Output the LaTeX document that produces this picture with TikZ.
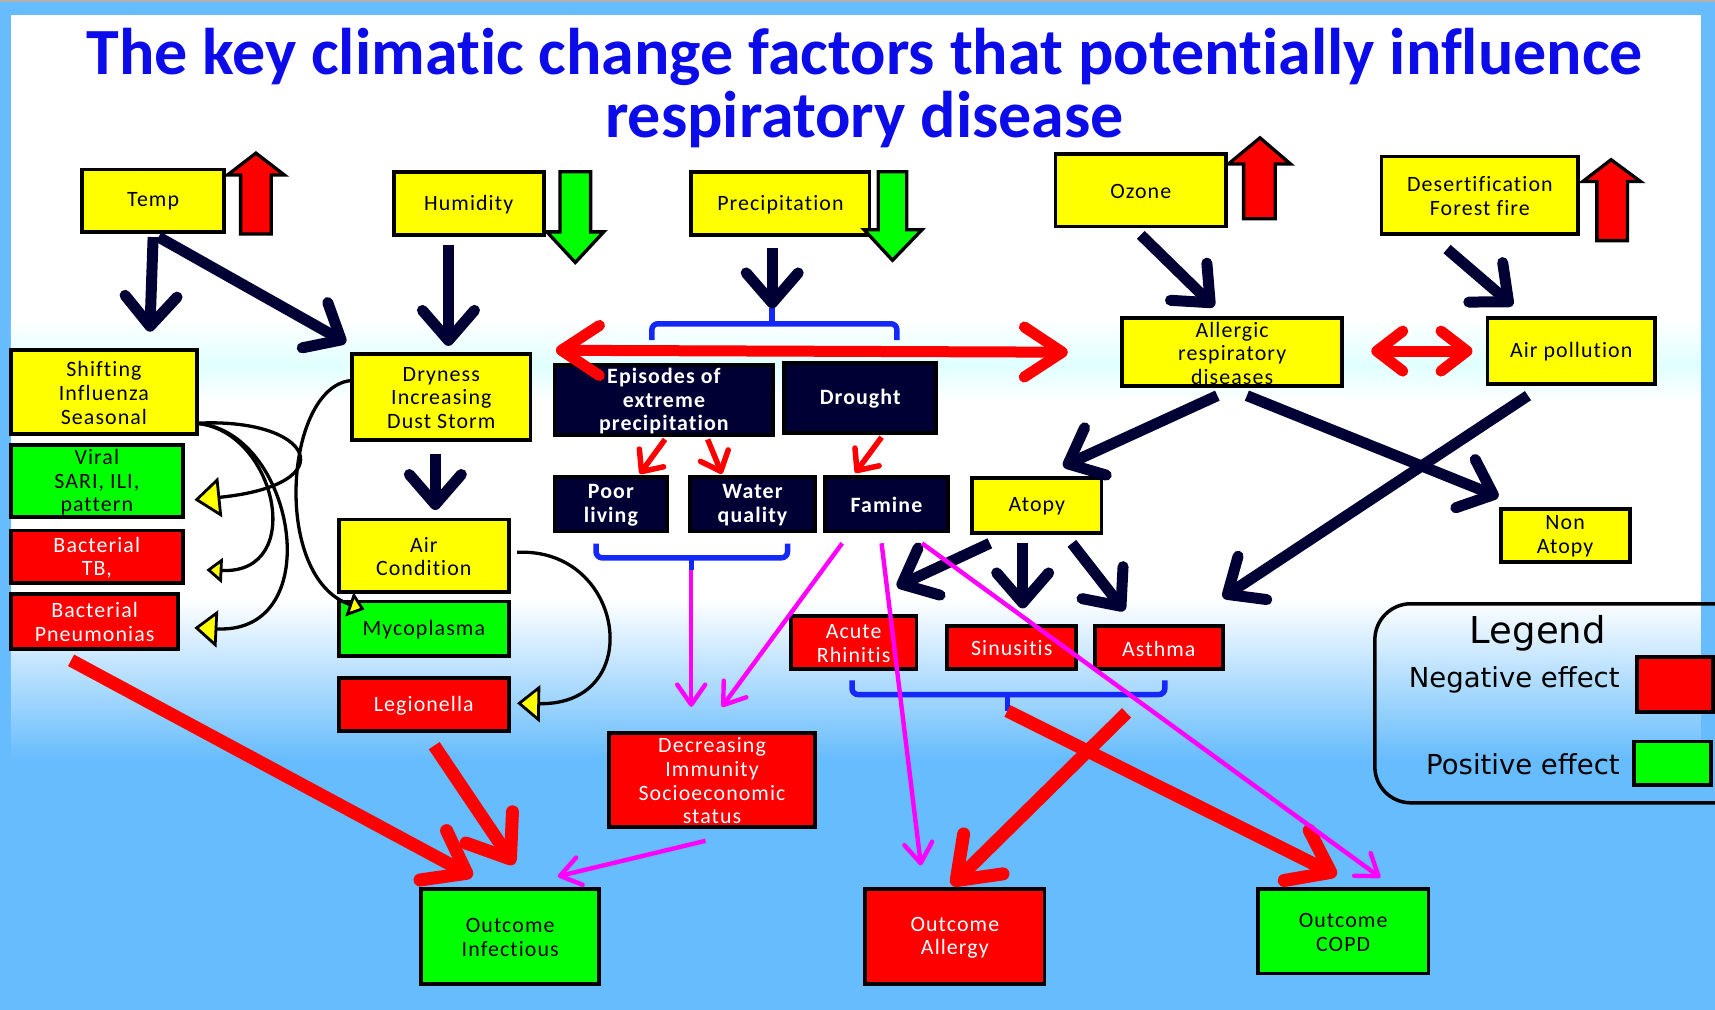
\documentclass[tikz,border=0pt]{standalone}
\usepackage{fontspec}
\setmainfont{Carlito}[Ligatures=NoCommon]
\newfontfamily\boxfont{Carlito}[LetterSpace=5,Ligatures=NoCommon]
\newfontfamily\legfont{DejaVu Sans}
\usetikzlibrary{arrows.meta,fit}
\definecolor{sky}{RGB}{102,188,252}
\definecolor{ylw}{RGB}{255,255,0}
\definecolor{grn}{RGB}{0,255,0}
\definecolor{rd}{RGB}{255,0,0}
\definecolor{navy}{RGB}{0,0,52}
\definecolor{ttl}{RGB}{12,12,235}
\definecolor{brc}{RGB}{20,40,250}
\definecolor{mag}{RGB}{255,0,255}
\definecolor{cyanband}{RGB}{225,255,255}
\begin{document}
\begin{tikzpicture}[x=1.09375pt,y=-1.09375pt,
  box/.style={draw=black, line width=3.8pt, inner sep=0pt},
  ybox/.style={box, fill=ylw},
  gbox/.style={box, fill=grn},
  rbox/.style={box, fill=rd},
  nbox/.style={box, fill=navy},
  lab/.style={align=center, inner sep=0pt, yshift=-1pt, font=\boxfont\fontsize{21.9}{23.7}\selectfont},
  klab/.style={lab, text=black},
  wlab/.style={lab, text=white},
  nlab/.style={lab, text=white, font=\boxfont\bfseries\fontsize{21.9}{23.7}\selectfont},
  blockarr/.style={draw=black, line width=3.3pt, line join=miter},
  navyarr/.style={draw=navy, line width=11pt, -{Straight Barb[length=30pt,width=52pt,round]}},
  redthick/.style={draw=rd, line width=13pt, -{Straight Barb[length=38pt,width=56pt,round]}},
  reddbl/.style={draw=rd, line width=11pt, {Straight Barb[length=38pt,width=50pt,round]}-{Straight Barb[length=38pt,width=50pt,round]}},
  redshortdbl/.style={draw=rd, line width=11pt, {Straight Barb[length=26pt,width=40pt,round]}-{Straight Barb[length=26pt,width=40pt,round]}},
  redthin/.style={draw=rd, line width=5.5pt, -{Straight Barb[length=17pt,width=30pt,round]}},
  magarr/.style={draw=mag, line width=4.4pt, -{Straight Barb[length=20pt,width=28pt,round]}},
  curvebig/.style={draw=black, line width=3.3pt, -{Triangle[fill=ylw,line width=2.8pt,length=26pt,width=40pt]}},
  curvearr/.style={draw=black, line width=3.3pt, -{Triangle[fill=ylw,line width=2.8pt,length=23pt,width=37pt]}},
  curvesmall/.style={draw=black, line width=3.3pt, -{Triangle[fill=ylw,line width=2.8pt,length=16pt,width=25pt]}},
  brace/.style={draw=brc, line width=5.5pt, rounded corners=6pt},
  legtext/.style={font=\legfont\fontsize{27.5}{30}\selectfont, text=black, inner sep=0pt}
]
\useasboundingbox (0,0) rectangle (1568,923);
\clip (0,0) rectangle (1568,923);
% background
\fill[sky] (0,0) rectangle (1568,923);
\fill[gray!60] (0,0) rectangle (1568,2);
\fill[white] (10,14) rectangle (1555,292);
\shade[top color=white, bottom color=cyanband] (10,292) rectangle (1555,334);
\shade[top color=cyanband, bottom color=white] (10,334) rectangle (1555,368);
\fill[white] (10,368) rectangle (1555,548);
\shade[top color=white, bottom color=sky] (10,548) rectangle (1555,695);

% title
\node[font=\bfseries\fontsize{66}{63}\selectfont, text=ttl, align=center, inner sep=0pt] (title) at (790.5,80.5) {The key climatic change factors that potentially influence\\respiratory disease};

% boxes
\node[ybox, fit={(75,155) (205,212)}, label={[klab]center:{Temp}}] (temp) {};
\node[ybox, fit={(360,157) (497,215)}, label={[klab]center:{Humidity}}] (hum) {};
\node[ybox, fit={(632,157) (795,215)}, label={[klab]center:{Precipitation}}] (prec) {};
\node[ybox, fit={(965,141) (1121,207)}, label={[klab]center:{Ozone}}] (ozone) {};
\node[ybox, fit={(1263,143) (1443,214)}, label={[klab]center:{Desertification\\Forest fire}}] (desert) {};
\node[ybox, fit={(10,320) (180,397)}, label={[klab]center:{Shifting\\Influenza\\Seasonal}}] (shifting) {};
\node[gbox, fit={(10,407) (167,473)}, label={[klab]center:{Viral\\SARI, ILI,\\pattern}}] (viral) {};
\node[rbox, fit={(10,485) (167,533)}, label={[wlab]center:{Bacterial\\TB,}}] (tb) {};
\node[rbox, fit={(10,543) (163,593)}, label={[wlab]center:{Bacterial\\Pneumonias}}] (pneu) {};
\node[ybox, fit={(322,324) (485,402)}, label={[klab]center:{Dryness\\Increasing\\Dust Storm}}] (dry) {};
\node[ybox, fit={(310,475) (465,541)}, label={[klab]center:{Air\\Condition}}] (aircond) {};
\node[gbox, fit={(310,550) (465,600)}, label={[klab]center:{Mycoplasma}}] (myco) {};
\node[rbox, fit={(310,620) (465,668)}, label={[wlab]center:{Legionella}}] (legio) {};
\node[nbox, fit={(507,334) (707,398)}, label={[nlab]center:{Episodes of\\extreme\\precipitation}}] (epis) {};
\node[nbox, fit={(717,332) (856,396)}, label={[nlab]center:{Drought}}] (drought) {};
\node[nbox, fit={(507,436) (610,486)}, label={[nlab]center:{Poor\\living}}] (poor) {};
\node[nbox, fit={(631,436) (745,486)}, label={[nlab]center:{Water\\quality}}] (water) {};
\node[nbox, fit={(754,436) (867,486)}, label={[nlab]center:{Famine}}] (famine) {};
\node[ybox, fit={(889,437) (1007,487)}, label={[klab]center:{Atopy}}] (atopy) {};
\node[ybox, fit={(1026,291) (1227,353)}, label={[klab]center:{Allergic\\respiratory\\diseases}}] (allergic) {};
\node[ybox, fit={(1360,291) (1513,351)}, label={[klab]center:{Air pollution}}] (airpol) {};
\node[ybox, fit={(1372,465) (1490,514)}, label={[klab]center:{Non\\Atopy}}] (nonatopy) {};
\node[rbox, fit={(723,563) (838,612)}, label={[wlab]center:{Acute\\Rhinitis}}] (rhin) {};
\node[rbox, fit={(866,572) (984,612)}, label={[wlab]center:{Sinusitis}}] (sinus) {};
\node[rbox, fit={(1001,572) (1118,612)}, label={[wlab]center:{Asthma}}] (asthma) {};
\node[rbox, fit={(557,670) (745,756)}, label={[wlab]center:{Decreasing\\Immunity\\Socioeconomic\\status}}] (immun) {};
\node[gbox, fit={(385,813) (548,900)}, label={[klab]center:{Outcome\\Infectious}}] (outinf) {};
\node[rbox, fit={(791,813) (955,900)}, label={[wlab]center:{Outcome\\Allergy}}] (outall) {};
\node[gbox, fit={(1150,813) (1306,890)}, label={[klab]center:{Outcome\\COPD}}] (outcopd) {};

% block arrows (trend indicators)
\draw[blockarr, fill=rd] (220,214) -- (220,160) -- (208,160) -- (234,140) -- (260,160) -- (248,160) -- (248,214) -- cycle;
\draw[blockarr, fill=grn] (512,157) -- (540,157) -- (540,212) -- (552,212) -- (526,240) -- (500,212) -- (512,212) -- cycle;
\draw[blockarr, fill=grn] (803,157) -- (829,157) -- (829,210) -- (843,210) -- (816,238) -- (790,210) -- (803,210) -- cycle;
\draw[blockarr, fill=rd] (1137,200) -- (1137,150) -- (1123,150) -- (1152,126) -- (1180,150) -- (1166,150) -- (1166,200) -- cycle;
\draw[blockarr, fill=rd] (1460,220) -- (1460,166) -- (1447,166) -- (1473,146) -- (1500,166) -- (1488,166) -- (1488,220) -- cycle;

% braces
\coordinate (br1) at (706,282);
\coordinate (br2) at (632,521);
\coordinate (br3) at (921,650);
\draw[brace] (596,311) -- (596,296) -- (820,296) -- (820,311);
\draw[brace] (706,297) -- (br1);
\draw[brace] (545,497) -- (545,510) -- (720,510) -- (720,497);
\draw[brace] (632,509) -- (br2);
\draw[brace] (779,622) -- (779,635) -- (1065,635) -- (1065,622);
\draw[brace] (921,634) -- (br3);

% navy arrows
\draw[navyarr] ([shift={(0,3)}]temp.south) -- ([shift={(42,-15)}]shifting.north);
\draw[navyarr] ([shift={(5,3)}]temp.south) -- ([shift={(-4,-9)}]dry.north west);
\draw[navyarr] ([shift={(-18.5,7)}]hum.south) -- ([shift={(6.5,-6)}]dry.north);
\draw[navyarr] ([shift={(-7.5,10)}]prec.south) -- (br1);
\draw[navyarr] ([shift={(-5.5,11)}]dry.south) -- ([shift={(10.5,-7)}]aircond.north);
\draw[navyarr] ([shift={(0,6)}]ozone.south) -- ([shift={(-16.5,-9)}]allergic.north);
\draw[navyarr] ([shift={(-30,12)}]desert.south) -- ([shift={(-53.5,-10)}]airpol.north);
\draw[navyarr] ([shift={(-13.5,7)}]allergic.south) -- ([shift={(24,-9)}]atopy.north);
\draw[navyarr] ([shift={(13.5,7)}]allergic.south) -- ([shift={(-61,-9)}]nonatopy.north);
\draw[navyarr] ([shift={(-39.5,9)}]airpol.south) -- ([shift={(58.5,-24)}]asthma.north);
\draw[navyarr] ([shift={(-43,8)}]atopy.south) -- ([shift={(39.5,-25)}]rhin.north);
\draw[navyarr] ([shift={(-13,8)}]atopy.south) -- ([shift={(10,-14)}]sinus.north);
\draw[navyarr] ([shift={(32,8)}]atopy.south) -- ([shift={(-31.5,-12)}]asthma.north);

% red double arrows
\draw[reddbl] ([shift={(3,-12)}]epis.north west) -- ([shift={(-48,0)}]allergic.west);
\draw[redshortdbl] ([shift={(25,-1)}]allergic.east) -- ([shift={(-12,0)}]airpol.west);

% red thin arrows
\draw[redthin] ([shift={(1,2)}]epis.south) -- ([shift={(26.5,-1)}]poor.north);
\draw[redthin] ([shift={(40,2)}]epis.south) -- ([shift={(-28,-1)}]water.north);
\draw[redthin] ([shift={(19.5,2)}]drought.south) -- ([shift={(-28.5,-2)}]famine.north);

% red thick arrows
\draw[redthick] ([shift={(-21.5,9)}]pneu.south) -- ([shift={(-34.5,-10)}]outinf.north);
\draw[redthick] ([shift={(9.5,12)}]legio.south) -- ([shift={(3.5,-21)}]outinf.north);
\draw[redthick] (br3) -- ([shift={(-6,-11)}]outcopd.north);
\draw[redthick] ([shift={(-29.5,38)}]asthma.south) -- ([shift={(-3,-2)}]outall.north);

% magenta arrows
\draw[magarr] (br2) -- ([shift={(-19,-22)}]immun.north);
\draw[magarr] ([shift={(-40.5,9)}]famine.south) -- ([shift={(9,-22)}]immun.north);
\draw[magarr] ([shift={(-4.5,9)}]famine.south) -- ([shift={(-31,-20)}]outall.north);
\draw[magarr] ([shift={(32.5,9)}]famine.south) -- ([shift={(34,-9)}]outcopd.north);
\draw[magarr] ([shift={(-6,11)}]immun.south) -- ([shift={(43.5,-10)}]outinf.north);

% black curves with yellow triangle heads
\draw[curvebig] ([shift={(-3,28.5)}]shifting.east) .. controls +(108,-6) and +(139,-14) .. ([shift={(9,17)}]viral.east);
\draw[curvesmall] ([shift={(-3,28.5)}]shifting.east) .. controls +(73,5) and +(93,4) .. ([shift={(20,12)}]tb.east);
\draw[curvearr] ([shift={(-3,28.5)}]shifting.east) .. controls +(91,5) and +(124,6) .. ([shift={(13,6)}]pneu.east);
\draw[curvesmall] ([shift={(0,-15)}]dry.west) .. controls +(-60,7) and +(-85,-29) .. ([shift={(25,9)}]myco.north west);
\draw[curvearr] ([shift={(6,-3)}]aircond.east) .. controls +(99,-5) and +(119,2) .. ([shift={(6,-1)}]legio.east);

% legend
\node[draw=black, line width=3.5pt, rounded corners=36pt, inner sep=0pt, fit={(1257,552) (1620,734)}] (legend) {};
\node[legtext, font=\legfont\fontsize{37}{40}\selectfont, anchor=base] (legtitle) at (1406,588) {Legend};
\node[legtext, anchor=base east] (negtxt) at (1481,629) {Negative effect};
\node[box, fill=rd, fit={(1497,601) (1566,651)}] (negsq) {};
\node[legtext, anchor=base east] (postxt) at (1481,708) {Positive effect};
\node[box, fill=grn, fit={(1494,678) (1564,718)}] (possq) {};
\end{tikzpicture}
\end{document}
